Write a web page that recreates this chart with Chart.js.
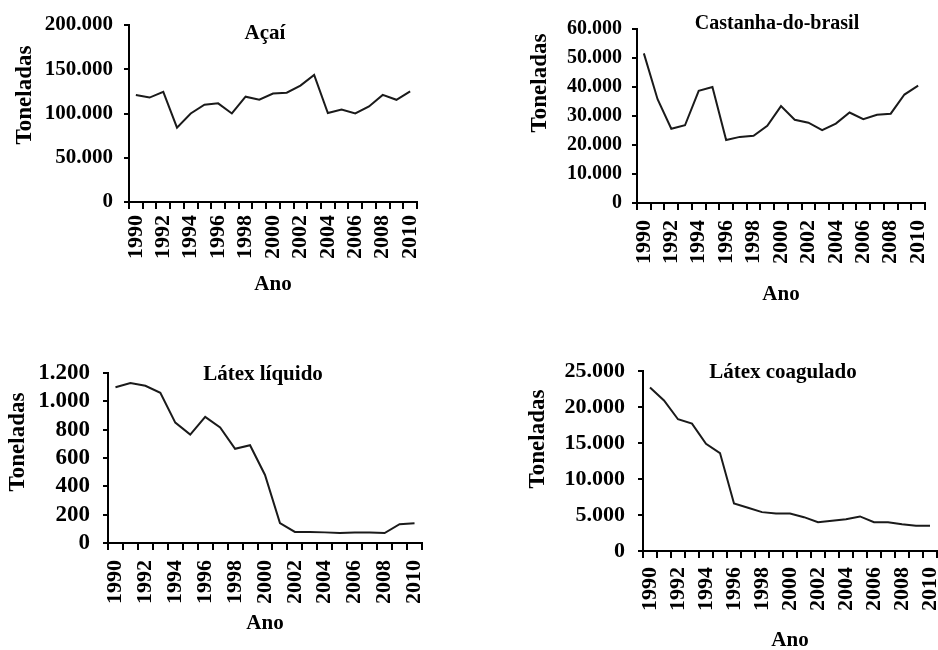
<!DOCTYPE html>
<html>
<head>
<meta charset="utf-8">
<script src="https://cdn.jsdelivr.net/npm/chart.js@4/dist/chart.umd.min.js"></script>
<style>
html, body { margin:0; padding:0; background:#fff; width:938px; height:650px; overflow:hidden; }
canvas { position:absolute; }
</style>
</head>
<body>
<canvas id="c1"></canvas>
<canvas id="c2"></canvas>
<canvas id="c3"></canvas>
<canvas id="c4"></canvas>
<script>
// ---- data ----
const years = ['1990','1991','1992','1993','1994','1995','1996','1997','1998','1999','2000',
               '2001','2002','2003','2004','2005','2006','2007','2008','2009','2010'];
const acai = [121000,118000,124500,84000,100000,110000,111500,100000,119000,115500,122500,
              123500,131500,143500,100500,104500,100000,108000,121000,115500,125000];
const castanha = [51600,35800,25600,26800,38700,40000,21700,22800,23200,26600,33400,
                  28700,27700,25100,27400,31200,28900,30400,30800,37400,40500];
const latexLiquido = [1100,1130,1110,1060,850,765,890,815,665,690,480,
                      140,78,77,75,70,74,74,70,133,140];
const latexCoagulado = [22700,20900,18300,17700,14900,13600,6600,6000,5400,5200,5200,
                        4700,4000,4200,4400,4800,4000,4000,3700,3500,3500];
const titles = ['Açaí','Castanha-do-brasil','Látex líquido','Látex coagulado'];
const yAxisTitle = 'Toneladas';
const xAxisTitle = 'Ano';
const yMax = [200000, 60000, 1200, 25000];
const yStep = [50000, 10000, 200, 5000];

const FONT = "'Liberation Serif','Times New Roman',Times,serif";
function fmt(v){ return String(v).replace(/\B(?=(\d{3})+(?!\d))/g, '.'); }

const panelText = {
  id: 'panelText',
  afterDraw(chart, args, o) {
    const ctx = chart.ctx;
    ctx.save();
    ctx.fillStyle = '#000';
    ctx.textAlign = 'center';
    ctx.textBaseline = 'middle';
    ctx.font = 'bold ' + o.titleSize + 'px ' + FONT;
    ctx.fillText(o.title, o.titleX, o.titleY);
    ctx.translate(o.yTitleX, o.yTitleY);
    ctx.rotate(-Math.PI / 2);
    ctx.font = 'bold ' + o.yTitleSize + 'px ' + FONT;
    ctx.fillText(o.yTitle, 0, 0);
    ctx.restore();
  }
};

const panels = [
  { id:'c1', box:[0,0,469,297],   area:[129,25,417,202],   data:acai,           k:0, yFont:21, yPad:11, xPad:6,  tSize:21, tPos:[265,34],  ytPos:[25,95] },
  { id:'c2', box:[469,0,469,307], area:[637,29,925,203],   data:castanha,       k:1, yFont:20, yPad:10, xPad:10, tSize:20, tPos:[777,24],  ytPos:[540,83] },
  { id:'c3', box:[0,325,469,311], area:[108,373,422,543],  data:latexLiquido,   k:2, yFont:23, yPad:13, xPad:10, tSize:21, tPos:[263,375], ytPos:[18,442] },
  { id:'c4', box:[469,325,469,328], area:[643,371,937,551], data:latexCoagulado, k:3, yFont:22, yPad:13, xPad:9,  tSize:21, tPos:[783,373], ytPos:[538,439] }
];

panels.forEach(p => {
  const [bx, by, bw, bh] = p.box;
  const [al, at, ar, ab] = p.area;
  const cv = document.getElementById(p.id);
  cv.width = bw; cv.height = bh;
  cv.style.left = bx + 'px'; cv.style.top = by + 'px';
  cv.style.width = bw + 'px'; cv.style.height = bh + 'px';
  new Chart(cv, {
    type: 'line',
    data: {
      labels: years,
      datasets: [{
        data: p.data,
        borderColor: '#1a1a1a',
        borderWidth: 2,
        pointRadius: 0,
        tension: 0,
        fill: false
      }]
    },
    options: {
      responsive: false,
      animation: false,
      devicePixelRatio: 1,
      layout: { padding: { left: 0, top: at - by, right: bx + bw - ar, bottom: 0 } },
      plugins: {
        legend: { display: false },
        tooltip: { enabled: false },
        panelText: {
          title: titles[p.k], titleSize: p.tSize, titleX: p.tPos[0] - bx, titleY: p.tPos[1] - by,
          yTitle: yAxisTitle, yTitleSize: 23, yTitleX: p.ytPos[0] - bx, yTitleY: p.ytPos[1] - by
        }
      },
      scales: {
        x: {
          type: 'category',
          offset: true,
          grid: { offset: true, drawOnChartArea: false, drawTicks: true, tickLength: 7, color: '#000', lineWidth: 2 },
          border: { display: true, color: '#000', width: 2 },
          ticks: {
            autoSkip: false, maxRotation: 90, minRotation: 90, padding: p.xPad, color: '#000',
            font: { family: FONT, size: 22, weight: 'bold' },
            callback: function(val, i) { return i % 2 === 0 ? this.getLabelForValue(val) : ''; }
          },
          title: { display: true, text: xAxisTitle, color: '#000',
                   font: { family: FONT, size: 21, weight: 'bold' }, padding: { top: 0, bottom: 0 } },
          afterFit: s => { s.height = by + bh - ab; s.paddingLeft = 0; s.paddingRight = 0; }
        },
        y: {
          type: 'linear',
          min: 0, max: yMax[p.k],
          grid: { drawOnChartArea: false, drawTicks: true, tickLength: 5, color: '#000', lineWidth: 2 },
          border: { display: true, color: '#000', width: 2 },
          ticks: {
            autoSkip: false,
            stepSize: yStep[p.k], padding: p.yPad, color: '#000',
            font: { family: FONT, size: p.yFont, weight: 'bold' },
            callback: v => fmt(v)
          },
          afterFit: s => { s.width = al - bx; s.paddingTop = 0; s.paddingBottom = 0; }
        }
      }
    },
    plugins: [panelText]
  });
});
</script>
</body>
</html>
